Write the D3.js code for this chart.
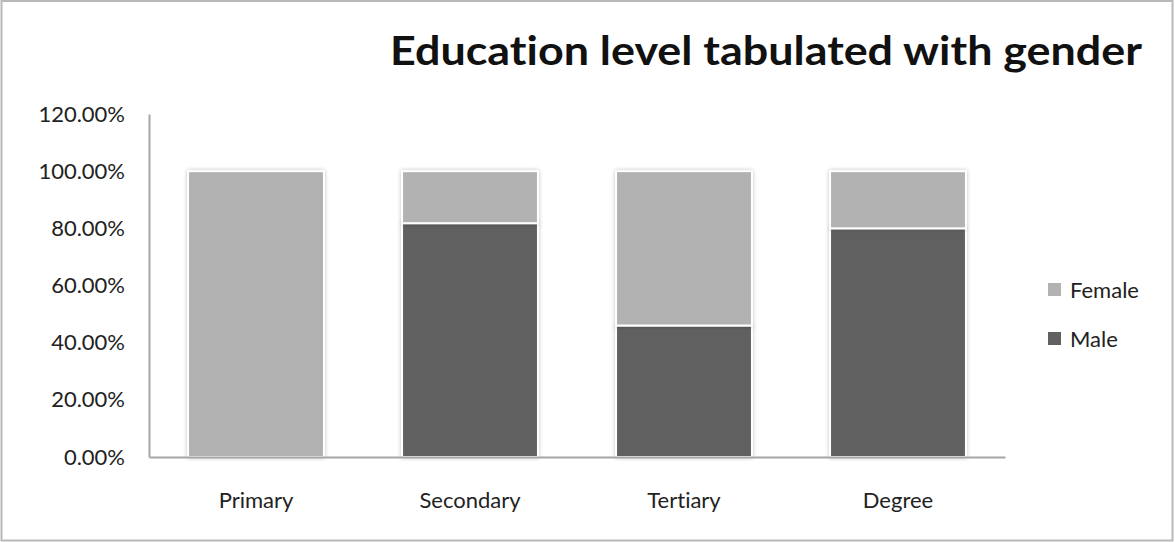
<!DOCTYPE html>
<html>
<head>
<meta charset="utf-8">
<script src="https://cdn.jsdelivr.net/npm/d3@7"></script>
<style>
  html, body { margin: 0; padding: 0; background: #fff; }
  svg { display: block; }
  text { font-variant-ligatures: none; font-feature-settings: "liga" 0; }
</style>
</head>
<body>
<svg id="chart" width="1175" height="542"></svg>
<script>
// Education level by gender (share of each level)
const categories = ["Primary", "Secondary", "Tertiary", "Degree"];
const maleShare   = [0.00, 0.818, 0.46, 0.80];
const femaleShare = [1.00, 0.182, 0.54, 0.20];
const seriesNames = ["Male", "Female"];
const yTicks = [0, 0.2, 0.4, 0.6, 0.8, 1.0, 1.2];
const titleText = "Education level tabulated with gender";

const colors = { Male: "#606060", Female: "#b2b2b2" };
const fontFamily = "Lato, 'Open Sans', 'DejaVu Sans', sans-serif";

const svg = d3.select("#chart");
const W = 1175, H = 542;

// outer frame
svg.append("rect").attr("x", 1.5).attr("y", 1).attr("width", W - 4).attr("height", H - 2.5)
  .attr("fill", "#fff").attr("stroke", "#b8b8b8").attr("stroke-width", 2);

const plot = { left: 149, right: 1005, top: 114, bottom: 457 };

const x = d3.scaleBand().domain(categories).range([plot.left, plot.right])
  .paddingInner(0.365).paddingOuter(0.1825);
const y = d3.scaleLinear().domain([0, 1.2]).range([plot.bottom, plot.top]);

// soft glow around bars
const defs = svg.append("defs");
const f = defs.append("filter").attr("id", "glow")
  .attr("x", "-10%").attr("y", "-10%").attr("width", "120%").attr("height", "120%");
f.append("feGaussianBlur").attr("in", "SourceAlpha").attr("stdDeviation", 2).attr("result", "b");
f.append("feComponentTransfer").attr("in", "b").attr("result", "c")
  .append("feFuncA").attr("type", "linear").attr("slope", 0.25);
const m = f.append("feMerge");
m.append("feMergeNode").attr("in", "c");
m.append("feMergeNode").attr("in", "SourceGraphic");

// stacked data
const rows = categories.map((c, i) => ({ category: c, Male: maleShare[i], Female: femaleShare[i] }));
const stacked = d3.stack().keys(seriesNames)(rows);

const barsG = svg.append("g");
stacked.forEach(layer => {
  barsG.append("g").selectAll("rect")
    .data(layer.filter(d => d[1] - d[0] > 0))
    .join("rect")
    .attr("x", d => x(d.data.category))
    .attr("width", x.bandwidth())
    .attr("y", d => y(d[1]))
    .attr("height", d => y(d[0]) - y(d[1]))
    .attr("fill", colors[layer.key])
    .attr("stroke", "#ffffff")
    .attr("stroke-width", 2)
    .attr("filter", "url(#glow)");
});

// y axis
const yAxis = d3.axisLeft(y).tickValues(yTicks)
  .tickFormat(d => (d * 100).toFixed(2) + "%").tickSize(0).tickPadding(24);
const gy = svg.append("g").attr("transform", `translate(${plot.left},0)`).call(yAxis);
gy.select(".domain").attr("stroke", "#a6a6a6").attr("stroke-width", 2);
gy.selectAll("text").attr("font-family", fontFamily).attr("font-size", 22).attr("fill", "#222");

// x axis
const xAxis = d3.axisBottom(x).tickSize(0).tickPadding(35);
const gx = svg.append("g").attr("transform", `translate(0,${plot.bottom})`).call(xAxis);
gx.select(".domain").attr("stroke", "#a6a6a6").attr("stroke-width", 2);
gx.selectAll("text").attr("font-family", fontFamily).attr("font-size", 22).attr("fill", "#222");

// title
svg.append("text").attr("x", 1142).attr("y", 65).attr("text-anchor", "end")
  .attr("font-family", "Lato, 'Open Sans', sans-serif").attr("font-weight", "bold")
  .attr("font-size", 41).attr("fill", "#111").attr("textLength", 752)
  .attr("lengthAdjust", "spacingAndGlyphs")
  .text(titleText);

// legend
const legendItems = ["Female", "Male"];
const lg = svg.append("g").attr("transform", "translate(1048,283)");
legendItems.forEach((k, i) => {
  const row = lg.append("g").attr("transform", `translate(0,${i * 49})`);
  row.append("rect").attr("width", 13).attr("height", 13).attr("fill", colors[k]);
  row.append("text").attr("x", 22).attr("y", 15).attr("font-family", fontFamily)
    .attr("font-size", 22).attr("fill", "#222").text(k);
});
</script>
</body>
</html>
